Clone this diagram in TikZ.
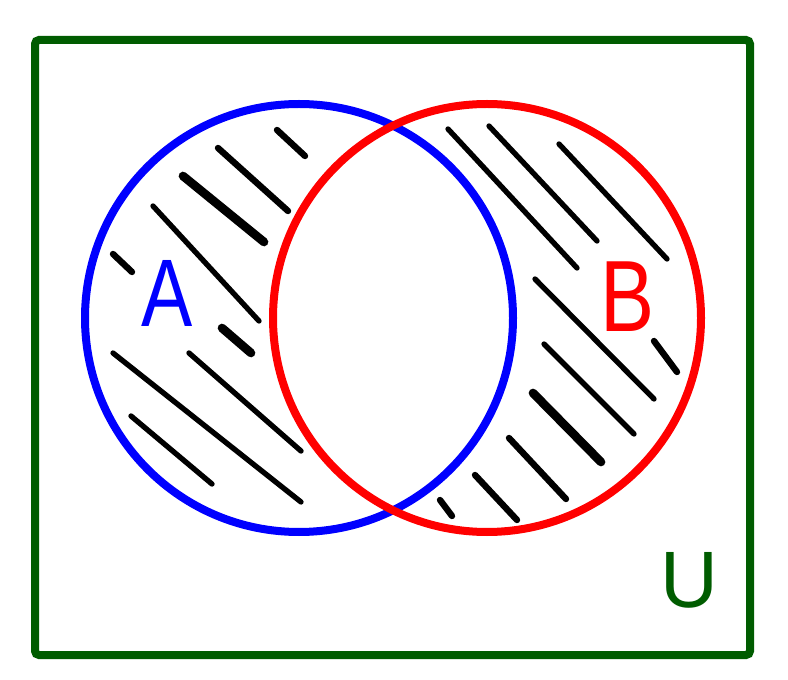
\documentclass[tikz,border=0pt]{standalone}
\usepackage{fontspec}
\setmainfont{Liberation Sans}
\definecolor{ugreen}{RGB}{0,92,0}
\definecolor{ablue}{RGB}{0,0,255}
\definecolor{bred}{RGB}{255,0,0}
\begin{document}
\begin{tikzpicture}[x=0.75pt,y=-0.75pt,
  hatch/.style={line width=4.8pt,line cap=round,black},
  hatchthick/.style={line width=6.5pt,line cap=round,black},
  hatchthin/.style={line width=4pt,line cap=round,black},
  setlabel/.style={inner sep=0pt,xscale=0.8}]
\useasboundingbox (0,0) rectangle (788,680);
% universe
\draw[ugreen,line width=6pt,rounded corners=3pt] (35,40) rectangle (750,655);
% hatching in A
\draw[hatch] (277,130) -- (305,156);
\draw[hatch] (218,148) -- (288,211);
\draw[hatchthick] (183,176) -- (264,242);
\draw[hatchthin] (153,206) -- (259,321);
\draw[hatch] (113,254) -- (132,272);
\draw[hatchthick] (222,328) -- (251,353);
\draw[hatchthin] (189,353) -- (301,451);
\draw[hatchthin] (113,353) -- (301,502);
\draw[hatchthin] (131,416) -- (212,484);
% hatching in B
\draw[hatchthin] (448,129) -- (577,268);
\draw[hatchthin] (489,126) -- (597,241);
\draw[hatchthin] (559,144) -- (667,259);
\draw[hatchthin] (535,279) -- (654,399);
\draw[hatch] (654,341) -- (677,372);
\draw[hatchthin] (544,344) -- (634,434);
\draw[hatchthick] (533,393) -- (601,462);
\draw[hatch] (509,438) -- (566,499);
\draw[hatch] (475,475) -- (517,520);
\draw[hatch] (440,500) -- (452,516);
% sets
\draw[ablue,line width=6pt] (299,318) circle (214);
\draw[bred,line width=6pt] (487,318) circle (214);
% labels
\node[ablue,setlabel,font=\fontsize{72}{80}\selectfont] (la) at (167,293) {A};
\node[bred,setlabel,font=\fontsize{76}{86}\selectfont] (lb) at (628,297) {B};
\node[ugreen,inner sep=0pt,font=\fontsize{60}{66}\selectfont] (lu) at (689,580) {U};
\end{tikzpicture}
\end{document}
